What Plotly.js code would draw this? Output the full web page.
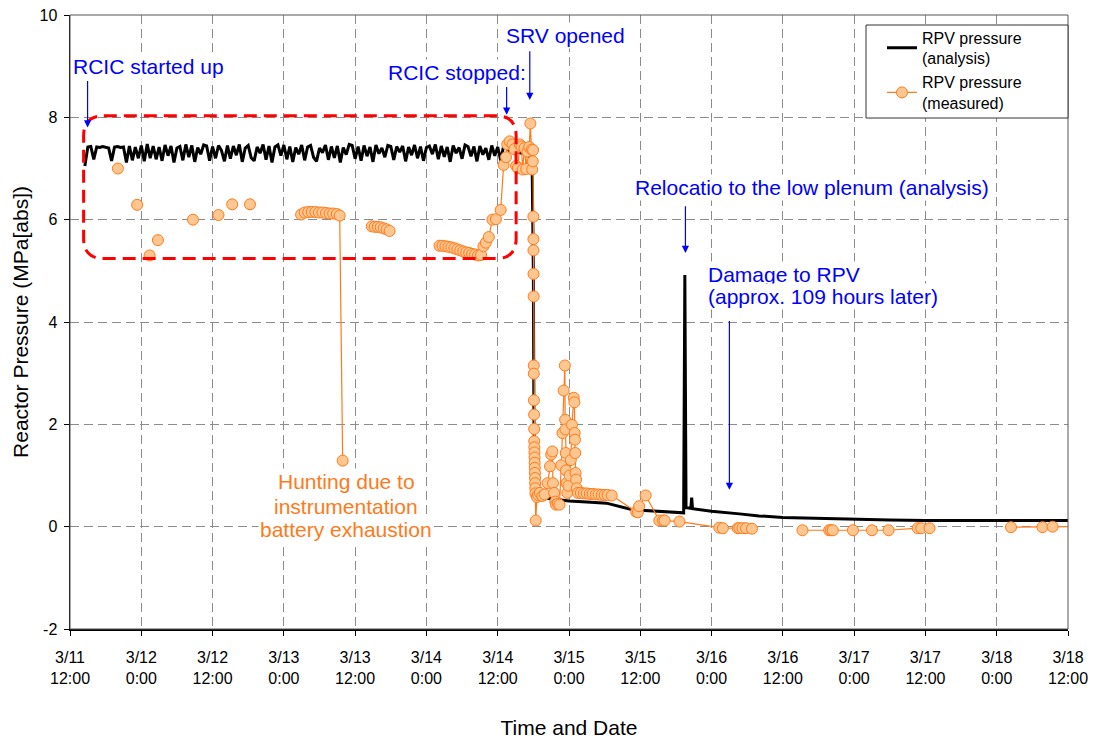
<!DOCTYPE html>
<html>
<head>
<meta charset="utf-8">
<script src="https://cdn.plot.ly/plotly-3.0.1.min.js"></script>
<style>
  html, body { margin: 0; padding: 0; background: #ffffff; }
  #chart { width: 1096px; height: 740px; }
</style>
</head>
<body>
<div id="chart"></div>
<script>
// Time axis: hours elapsed since 3/11 12:00, one tick every 12 hours
const TICK_HOURS = [0, 12, 24, 36, 48, 60, 72, 84, 96, 108, 120, 132, 144, 156, 168];
const TICK_LABELS = [
  '3/11<br>12:00', '3/12<br>0:00', '3/12<br>12:00', '3/13<br>0:00', '3/13<br>12:00',
  '3/14<br>0:00', '3/14<br>12:00', '3/15<br>0:00', '3/15<br>12:00', '3/16<br>0:00',
  '3/16<br>12:00', '3/17<br>0:00', '3/17<br>12:00', '3/18<br>0:00', '3/18<br>12:00'
];
const PRESSURE_TICKS = [-2, 0, 2, 4, 6, 8, 10];
const PRESSURE_LABELS = ['-2', '0', '2', '4', '6', '8', '10'];

// RPV pressure, analysis (hours, MPa[abs])
const ANALYSIS_HOURS = [
  2.5, 3, 3.5, 4, 4.5, 5, 5.5, 6, 6.5, 7, 7.5, 8,
  8.5, 9, 9.5, 10, 10.5, 11, 11.5, 12, 12.5, 13, 13.5, 14,
  14.5, 15, 15.5, 16, 16.5, 17, 17.5, 18, 18.5, 19, 19.5, 20,
  20.5, 21, 21.5, 22, 22.5, 23, 23.5, 24, 24.5, 25, 25.5, 26,
  26.5, 27, 27.5, 28, 28.5, 29, 29.5, 30, 30.5, 31, 31.5, 32,
  32.5, 33, 33.5, 34, 34.5, 35, 35.5, 36, 36.5, 37, 37.5, 38,
  38.5, 39, 39.5, 40, 40.5, 41, 41.5, 42, 42.5, 43, 43.5, 44,
  44.5, 45, 45.5, 46, 46.5, 47, 47.5, 48, 48.5, 49, 49.5, 50,
  50.5, 51, 51.5, 52, 52.5, 53, 53.5, 54, 54.5, 55, 55.5, 56,
  56.5, 57, 57.5, 58, 58.5, 59, 59.5, 60, 60.5, 61, 61.5, 62,
  62.5, 63, 63.5, 64, 64.5, 65, 65.5, 66, 66.5, 67, 67.5, 68,
  68.5, 69, 69.5, 70, 70.5, 71, 71.5, 72, 72.5, 73,
  74, 75, 76, 77, 77.6, 77.8, 78.0, 78.1, 78.3, 78.6, 80, 82, 84, 87, 90.3,
  94.7, 96, 100, 103.3, 103.5, 103.7, 104.5, 104.65, 104.8, 108, 112.7, 116,
  120, 126, 132, 138, 144, 168
];
const ANALYSIS_MPA = [
  7.05, 7.42, 7.43, 7.18, 7.42, 7.41, 7.43, 7.42, 7.40, 7.15, 7.42, 7.43,
  7.41, 7.42, 7.12, 7.44, 7.16, 7.42, 7.20, 7.45, 7.14, 7.48, 7.20, 7.44,
  7.18, 7.42, 7.15, 7.46, 7.25, 7.44, 7.12, 7.40, 7.43, 7.16, 7.47, 7.22,
  7.45, 7.13, 7.41, 7.28, 7.46, 7.44, 7.15, 7.43, 7.20, 7.45, 7.35, 7.14,
  7.45, 7.19, 7.44, 7.26, 7.47, 7.13, 7.40, 7.45, 7.21, 7.15, 7.42, 7.30,
  7.47, 7.17, 7.44, 7.12, 7.42, 7.46, 7.25, 7.46, 7.18, 7.43, 7.13, 7.41,
  7.28, 7.46, 7.16, 7.42, 7.45, 7.22, 7.14, 7.40, 7.31, 7.46, 7.17, 7.43,
  7.21, 7.44, 7.12, 7.41, 7.27, 7.47, 7.45, 7.19, 7.43, 7.15, 7.45, 7.24,
  7.42, 7.13, 7.46, 7.29, 7.40, 7.22, 7.45, 7.43, 7.17, 7.43, 7.32, 7.44,
  7.14, 7.42, 7.26, 7.46, 7.20, 7.43, 7.15, 7.41, 7.44, 7.28, 7.47, 7.18,
  7.44, 7.23, 7.42, 7.13, 7.45, 7.30, 7.41, 7.19, 7.46, 7.43, 7.24, 7.43,
  7.14, 7.44, 7.27, 7.40, 7.17, 7.45, 7.25, 7.42, 7.16, 7.44,
  7.35, 7.32, 7.30, 7.28, 7.20, 7.00, 5.00, 2.00, 0.80, 0.60, 0.56, 0.53, 0.50, 0.48, 0.46,
  0.33, 0.32, 0.29, 0.27, 4.92, 0.37, 0.36, 0.57, 0.35, 0.30, 0.25, 0.21,
  0.18, 0.16, 0.14, 0.13, 0.12, 0.12
];

// RPV pressure, measured (null = no reading, line is broken there)
const MEASURED_HOURS = [
  8.06, null, 11.3, null, 13.4, null, 14.8, null, 20.7, null, 25.0, null, 27.3, null, 30.3, null,
  38.9, 39.5, 40.1, 40.7, 41.3, 41.9, 42.5, 43.1, 43.7, 44.3, 44.9, 45.4, 45.9, null,
  50.8, 51.3, 51.8, 52.3, 52.8, 53.3, 53.8, null,
  62.2, 62.7, 63.2, 63.7, 64.2, 64.7, 65.2, 65.7, 66.2, 66.7, 67.2, 67.7, 68.2, 68.7, 69.2, 69.6, 70.0, 70.5, 71.1, 71.7, 72.5,
  73.0, 73.4, 73.6, 74.0, 74.5, 74.8, 75.1, 75.4, 75.7, 76.0, 76.2, 76.5, 76.8, 77.0, 77.3, 77.5, 77.7, 77.8, 77.9, 77.95,
  78.0, 78.01, 78.02, 78.03, 78.05, 78.07, 78.08, 78.1, 78.12, 78.14, 78.15, 78.17, 78.18, 78.2, 78.22, 78.24, 78.26, 78.28, 78.3, 78.32, 78.34, 78.4,
  78.6, 78.8, 79.1, 79.5, 79.9, 80.4, 80.8, 81.0, 81.2, 81.3, 81.5, 81.7, 81.8, 82.1, 82.4,
  82.7, 82.9, 83.1, 83.3, 83.35, 83.4, 83.45, 83.5, 83.6, 83.7, 83.9, 84.1, 84.3,
  84.5, 84.8, 84.9, 84.95, 85.0, 85.05, 85.1, 85.2, 85.3, 85.5,
  86.0, 86.5, 87.0, 87.5, 88.0, 88.5, 89.0, 89.5, 90.0, 90.5, 91.2,
  95.3, 95.6, 95.8, 96.9, 99.2, 99.8, 100.1, 102.6, 109.3, 109.9, 112.4, 112.7, 113.2, 113.8, 114.8, null,
  123.3, 127.8, 128.1, 128.4, 131.8, 135.0, 137.8, 142.7, 143.3, 144.7, null,
  158.4, 163.7, 165.4, 169.0
];
const MEASURED_MPA = [
  7.00, null, 6.29, null, 5.30, null, 5.60, null, 6.00, null, 6.09, null, 6.30, null, 6.30, null,
  6.10, 6.14, 6.15, 6.15, 6.15, 6.14, 6.14, 6.13, 6.12, 6.12, 6.11, 6.08, 1.29, null,
  5.87, 5.86, 5.86, 5.85, 5.83, 5.81, 5.78, null,
  5.49, 5.49, 5.48, 5.47, 5.46, 5.44, 5.42, 5.40, 5.38, 5.36, 5.35, 5.33, 5.32, 5.30, 5.31, 5.48, 5.55, 5.66, 6.00, 6.01, 6.19,
  7.07, 7.22, 7.47, 7.53, 7.47, 7.38, 7.05, 7.01, 7.47, 7.43, 6.98, 7.40, 6.99, 7.33, 7.42, 7.88, 7.37, 6.98, 7.14, 7.36,
  6.06, 5.62, 5.40, 4.94, 4.50, 3.15, 2.99, 2.47, 2.19, 1.91, 1.67, 1.55, 1.45, 1.35, 1.25, 1.15, 1.05, 0.95, 0.85, 0.75, 0.65, 0.12,
  0.58, 0.62, 0.66, 0.60, 0.63, 0.85, 1.18, 1.41, 1.47, 0.85, 0.66, 0.49, 0.43, 0.45, 0.43,
  1.20, 1.83, 2.66, 3.15, 2.09, 1.90, 1.44, 1.10, 0.85, 0.66, 0.80, 1.00, 1.30,
  1.99, 2.52, 2.43, 1.83, 1.70, 1.44, 1.05, 0.92, 0.75, 0.66,
  0.66, 0.65, 0.65, 0.64, 0.64, 0.63, 0.63, 0.62, 0.62, 0.62, 0.61,
  0.29, 0.28, 0.40, 0.61, 0.12, 0.12, 0.12, 0.10, -0.02, -0.03, -0.03, -0.03, -0.03, -0.03, -0.04, null,
  -0.07, -0.07, -0.07, -0.07, -0.07, -0.07, -0.07, -0.03, -0.03, -0.03, null,
  -0.01, -0.01, 0.00, 0.00
];

const FONT = 'Arial, "Liberation Sans", sans-serif';
const BLUE = '#0000FF';
const ORANGE = '#FF7A1A';

const traces = [
  {
    x: ANALYSIS_HOURS, y: ANALYSIS_MPA,
    type: 'scatter', mode: 'lines',
    name: 'RPV pressure<br>(analysis)',
    line: { color: '#000000', width: 3 }
  },
  {
    x: MEASURED_HOURS, y: MEASURED_MPA,
    type: 'scatter', mode: 'lines+markers',
    connectgaps: false,
    name: 'RPV pressure<br>(measured)',
    line: { color: ORANGE, width: 1.2 },
    marker: { size: 11, color: '#FFC690', line: { color: ORANGE, width: 1 } }
  }
];

// rounded dashed frame around the RCIC operating period
const bx0 = 2.29, bx1 = 75.1, by0 = 5.24, by1 = 8.03, rx = 3.4, ry = 0.39;
const boxPath = `M ${bx0 + rx},${by1} L ${bx1 - rx},${by1} Q ${bx1},${by1} ${bx1},${by1 - ry} ` +
  `L ${bx1},${by0 + ry} Q ${bx1},${by0} ${bx1 - rx},${by0} L ${bx0 + rx},${by0} ` +
  `Q ${bx0},${by0} ${bx0},${by0 + ry} L ${bx0},${by1 - ry} Q ${bx0},${by1} ${bx0 + rx},${by1} Z`;

function label(x, y, text, color, xanchor) {
  return {
    x: x, y: y, xref: 'x', yref: 'y', text: text, showarrow: false,
    xanchor: xanchor || 'center', yanchor: 'middle',
    bgcolor: '#ffffff', borderpad: 1,
    font: { family: FONT, size: 21, color: color }
  };
}
function arrow(x, yHead, yTail) {
  return {
    x: x, y: yHead, ax: x, ay: yTail, xref: 'x', yref: 'y', axref: 'x', ayref: 'y',
    text: '', showarrow: true, arrowhead: 2, arrowsize: 1.2, arrowwidth: 1.2, arrowcolor: BLUE
  };
}

const layout = {
  width: 1096, height: 740,
  margin: { l: 70, r: 28, t: 15, b: 111 },
  paper_bgcolor: '#ffffff', plot_bgcolor: '#ffffff',
  font: { family: FONT, color: '#000000' },
  showlegend: true,
  legend: {
    x: 0.8136, xanchor: 'left', y: 0.991, yanchor: 'top',
    bgcolor: 'rgba(0,0,0,0)', borderwidth: 0, valign: 'middle',
    font: { family: FONT, size: 16, color: '#000000' },
    itemwidth: 30, tracegroupgap: 8
  },
  xaxis: {
    range: [0, 168], tickmode: 'array', tickvals: TICK_HOURS, ticktext: TICK_LABELS,
    showgrid: true, gridcolor: '#8c8c8c', gridwidth: 1, griddash: '9px,5px',
    zeroline: false, showline: true, linecolor: '#000000', linewidth: 1.5,
    ticks: 'outside', ticklen: 5, tickcolor: '#000000', ticklabelstandoff: 8,
    tickfont: { family: FONT, size: 16, color: '#000000' },
    title: { text: 'Time and Date', font: { family: FONT, size: 21, color: '#000000' }, standoff: 35 }
  },
  yaxis: {
    range: [-2, 10], tickmode: 'array', tickvals: PRESSURE_TICKS, ticktext: PRESSURE_LABELS,
    showgrid: true, gridcolor: '#8c8c8c', gridwidth: 1, griddash: '9px,5px',
    zeroline: false, showline: true, linecolor: '#000000', linewidth: 1.5,
    ticks: 'outside', ticklen: 5, tickcolor: '#000000', ticklabelstandoff: 3,
    tickfont: { family: FONT, size: 16, color: '#000000' },
    title: { text: 'Reactor Pressure (MPa[abs])', font: { family: FONT, size: 21, color: '#000000' }, standoff: 5 }
  },
  shapes: [
    { type: 'rect', xref: 'paper', yref: 'paper', x0: 0, x1: 1, y0: 0, y1: 1,
      line: { color: '#555555', width: 1 }, layer: 'above' },
    { type: 'path', xref: 'x', yref: 'y', path: boxPath,
      line: { color: '#FF0000', width: 3, dash: '13px,7px' }, layer: 'above' },
    { type: 'rect', xref: 'paper', yref: 'paper', x0: 0.7976, x1: 1, y0: 0.8322, y1: 0.9837,
      fillcolor: '#ffffff', line: { color: '#333333', width: 1 }, layer: 'above' }
  ],
  annotations: [
    label(13.2, 8.99, 'RCIC started up', BLUE),
    arrow(2.96, 7.80, 8.74),
    label(65.1, 8.87, 'RCIC stopped:', BLUE),
    arrow(73.5, 8.05, 8.62),
    label(83.4, 9.60, 'SRV opened', BLUE),
    arrow(77.4, 8.34, 9.32),
    label(124.9, 6.62, 'Relocatio to the low plenum (analysis)', BLUE),
    arrow(103.6, 5.35, 6.29),
    label(107.1, 4.93, 'Damage to RPV', BLUE, 'left'),
    label(107.1, 4.49, '(approx. 109 hours later)', BLUE, 'left'),
    arrow(111.0, 0.72, 4.05),
    label(46.5, 0.88, 'Hunting due to', ORANGE),
    label(46.5, 0.40, 'instrumentation', ORANGE),
    label(46.5, -0.06, 'battery exhaustion', ORANGE)
  ]
};

Plotly.newPlot('chart', traces, layout, { displayModeBar: false, staticPlot: true });
</script>
</body>
</html>
